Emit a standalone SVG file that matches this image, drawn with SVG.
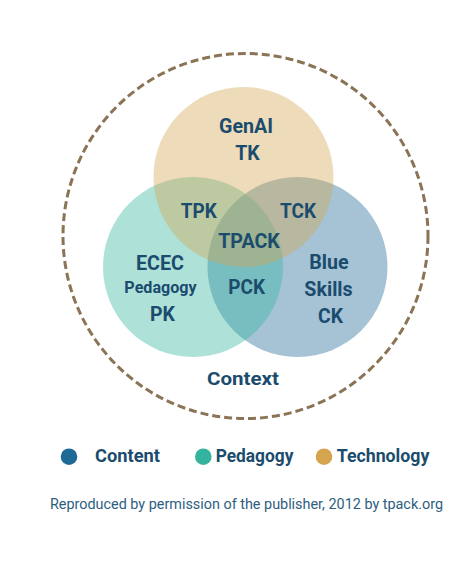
<svg xmlns="http://www.w3.org/2000/svg" width="474" height="561" viewBox="0 0 474 561">
<style>
.lbl{font-family:Roboto,"Liberation Sans",sans-serif;font-weight:bold;fill:#1B4C6E;text-anchor:middle}
.leg{font-family:Roboto,"Liberation Sans",sans-serif;font-weight:bold;fill:#1B4C6E;font-size:17.5px}
.foot{font-family:Roboto,"Liberation Sans",sans-serif;fill:#2D5E80;font-size:14.5px}
</style>
<rect width="474" height="561" fill="#ffffff"/>
<g id="context">
<circle cx="245.5" cy="236" r="182.5" fill="none" stroke="#8B7355" stroke-width="3" stroke-dasharray="8 4"/>
<text class="lbl" x="243" y="385" font-size="19" textLength="72" lengthAdjust="spacingAndGlyphs">Context</text>
</g>
<g id="content">
<circle cx="297.5" cy="267" r="90" fill="#1D6A96" fill-opacity="0.4"/>
</g>
<g id="pedagogy">
<circle cx="193" cy="267" r="90" fill="#35B39E" fill-opacity="0.4"/>
</g>
<g id="technology">
<circle cx="243.5" cy="177" r="90" fill="#D5A44F" fill-opacity="0.4"/>
</g>
<g id="labels">
<text class="lbl" x="246" y="133" font-size="20.5" textLength="54" lengthAdjust="spacingAndGlyphs">GenAI</text>
<text class="lbl" x="247.5" y="160" font-size="20.5" textLength="24.5" lengthAdjust="spacingAndGlyphs">TK</text>
<text class="lbl" x="198.7" y="218" font-size="20.5" textLength="36" lengthAdjust="spacingAndGlyphs">TPK</text>
<text class="lbl" x="298" y="218" font-size="20.5" textLength="36" lengthAdjust="spacingAndGlyphs">TCK</text>
<text class="lbl" x="249" y="248" font-size="20.5" textLength="61.7" lengthAdjust="spacingAndGlyphs">TPACK</text>
<text class="lbl" x="160" y="270" font-size="20.5" textLength="48" lengthAdjust="spacingAndGlyphs">ECEC</text>
<text class="lbl" x="160.5" y="293" font-size="16" textLength="72.3" lengthAdjust="spacingAndGlyphs">Pedagogy</text>
<text class="lbl" x="162.5" y="321" font-size="20.5" textLength="25" lengthAdjust="spacingAndGlyphs">PK</text>
<text class="lbl" x="246.7" y="294" font-size="20.5" textLength="36.7" lengthAdjust="spacingAndGlyphs">PCK</text>
<text class="lbl" x="329" y="269" font-size="20.5" textLength="39.3" lengthAdjust="spacingAndGlyphs">Blue</text>
<text class="lbl" x="328.5" y="296" font-size="20.5" textLength="48.3" lengthAdjust="spacingAndGlyphs">Skills</text>
<text class="lbl" x="330.5" y="323" font-size="20.5" textLength="25" lengthAdjust="spacingAndGlyphs">CK</text>
</g>
<g id="legend">
<circle cx="69" cy="456.7" r="8.3" fill="#1D6A96"/>
<text class="leg" x="95" y="462" textLength="65" lengthAdjust="spacingAndGlyphs">Content</text>
<circle cx="203.3" cy="456.7" r="8.3" fill="#35B39E"/>
<text class="leg" x="215.7" y="462" textLength="77.7" lengthAdjust="spacingAndGlyphs">Pedagogy</text>
<circle cx="324" cy="456.7" r="8.3" fill="#D5A44F"/>
<text class="leg" x="336.7" y="462" textLength="92.7" lengthAdjust="spacingAndGlyphs">Technology</text>
</g>
<text class="foot" x="50" y="508.7" textLength="393" lengthAdjust="spacingAndGlyphs">Reproduced by permission of the publisher, 2012 by tpack.org</text>
</svg>
